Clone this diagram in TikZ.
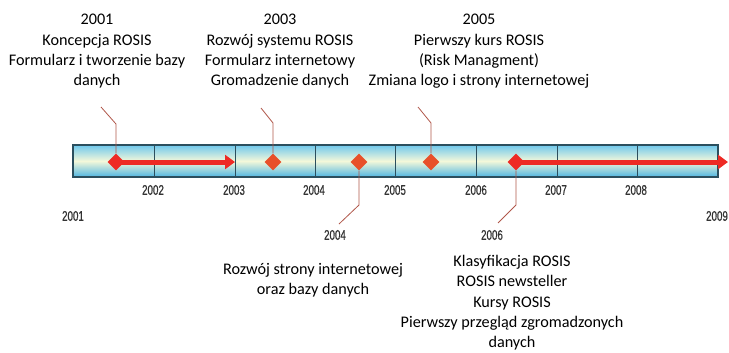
\documentclass[tikz,border=0pt]{standalone}
\usepackage{fontspec}
\setmainfont{Carlito}
\newfontfamily\yearfont[FakeStretch=0.7,FakeBold=0.6]{Liberation Sans}
\usetikzlibrary{arrows.meta,shapes.geometric}
\definecolor{barline}{HTML}{2B4F5E}
\definecolor{bartop}{HTML}{6FC8EC}
\definecolor{barmid}{HTML}{F4F8DA}
\definecolor{barbot}{HTML}{4FB6E2}
\definecolor{arrred}{HTML}{EE2A24}
\definecolor{diaor}{HTML}{E8502A}
\definecolor{leader}{HTML}{B0574A}
\definecolor{yeartxt}{HTML}{333333}
\tikzset{
  desc/.style={align=center,inner sep=0pt,font=\fontsize{16.2bp}{20.3bp}\selectfont,text=black},
  yr/.style={inner sep=0pt,font=\yearfont\fontsize{14bp}{14bp}\selectfont,text=yeartxt},
  dia/.style={diamond,minimum width=17bp,minimum height=17bp,inner sep=0pt,fill=#1,draw=none},
  bigarrow/.style={draw=arrred,line width=5bp,-{Triangle[length=10bp,width=14bp]}},
  lead/.style={draw=leader,line width=0.8bp},
  divider/.style={draw=barline,line width=1bp}
}
\begin{document}
\begin{tikzpicture}[x=1bp,y=-1bp]
\useasboundingbox (0,0) rectangle (729,352);
% bar
\shade[top color=bartop,bottom color=barbot,middle color=barmid] (73,145) rectangle (718,177);
\draw[barline,line width=1.1bp] (73,145) rectangle (718,177);
\foreach \x in {154,235,315,395,476,557,637}{\draw[divider] (\x,145) -- (\x,177);}
% year labels
\node[yr] (y2002) at (153,190) {2002};
\node[yr] (y2003) at (234,190) {2003};
\node[yr] (y2004) at (314,190) {2004};
\node[yr] (y2005) at (395,190) {2005};
\node[yr] (y2006) at (476,190) {2006};
\node[yr] (y2007) at (556,190) {2007};
\node[yr] (y2008) at (636,190) {2008};
\node[yr] (y2001) at (73,216) {2001};
\node[yr] (y2009) at (717,216) {2009};
\node[yr] (l2004) at (335,235) {2004};
\node[yr] (l2006) at (492,235) {2006};
% arrows
\coordinate (e1) at (235,162);
\coordinate (e2) at (728,162);
\node[dia=arrred] (d1) at (116,162) {};
\node[dia=arrred] (d5) at (516,162) {};
\draw[bigarrow] (d1.center) -- (e1);
\draw[bigarrow] (d5.center) -- (e2);
\node[dia=diaor] (d2) at (273,162) {};
\node[dia=diaor] (d3) at (359,162) {};
\node[dia=diaor] (d4) at (431,162) {};
% leaders
\coordinate (t1) at (101,107);
\coordinate (t2) at (261,108);
\coordinate (t4) at (418,107);
\coordinate (t3) at (339,224);
\coordinate (t5) at (498,223);
\draw[lead] (d1.north) -- (116,124) -- (t1);
\draw[lead] (d2.north) -- (273,123) -- (t2);
\draw[lead] (d4.north) -- (431,123) -- (t4);
\draw[lead] (d3.south) -- (359,205) -- (t3);
\draw[lead] (d5.south) -- (516,205) -- (t5);
% descriptions
\node[desc,anchor=north] (a2001) at (97,14) {2001\\Koncepcja ROSIS\\Formularz i tworzenie bazy\\danych};
\node[desc,anchor=north] (a2003) at (280,14) {2003\\Rozwój systemu ROSIS\\Formularz internetowy\\Gromadzenie danych};
\node[desc,anchor=north] (a2005) at (479,14) {2005\\Pierwszy kurs ROSIS\\(Risk Managment)\\Zmiana logo i strony internetowej};
\node[desc,anchor=north] (a2004) at (313,263) {Rozwój strony internetowej\\oraz bazy danych};
\node[desc,anchor=north] (a2006) at (512,255) {Klasyfikacja ROSIS\\ROSIS newsteller\\Kursy ROSIS\\Pierwszy przegląd zgromadzonych\\danych};
\end{tikzpicture}
\end{document}
